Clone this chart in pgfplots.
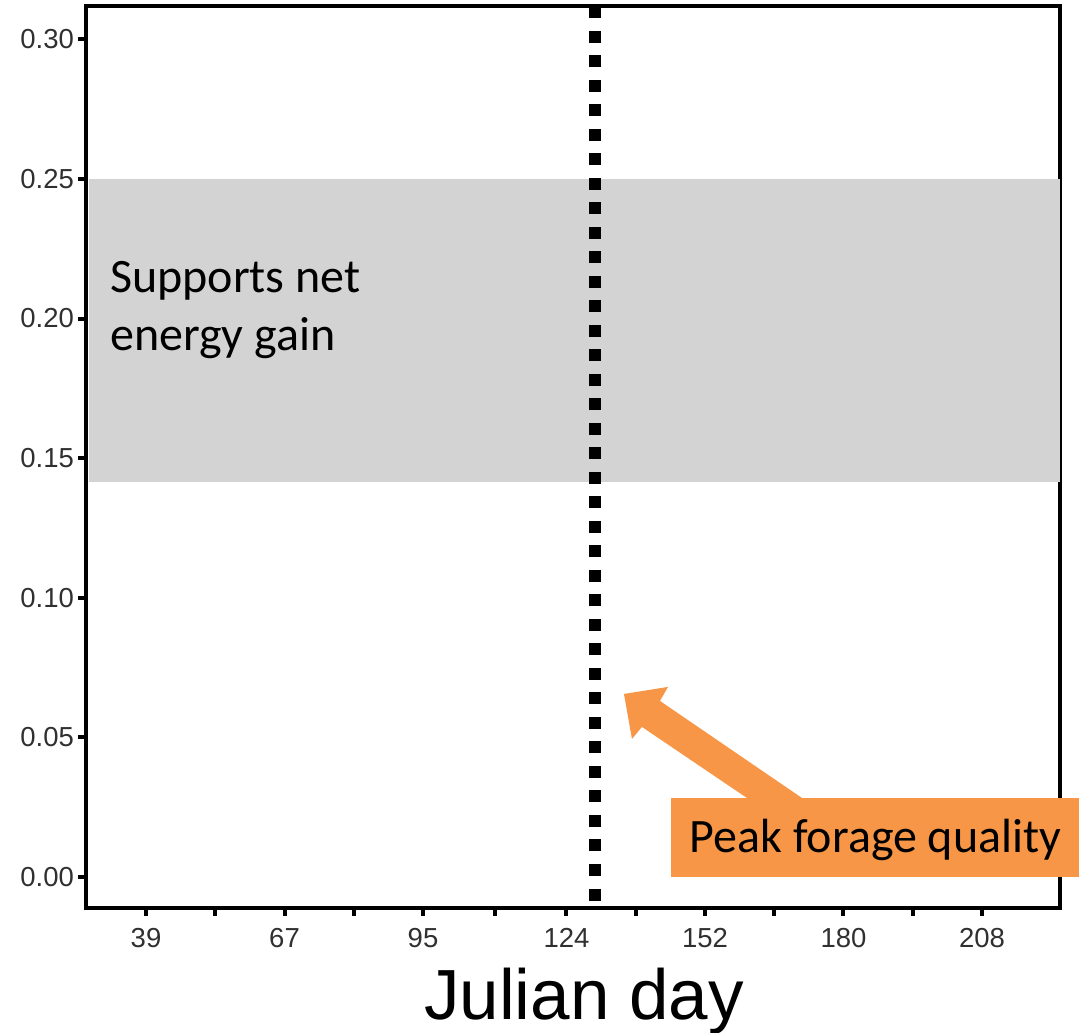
\documentclass[border=0pt]{standalone}
\usepackage{pgfplots}
\pgfplotsset{compat=1.18}
\usepackage{fontspec}
\setmainfont{Liberation Sans}
\newfontfamily\calibri{Carlito}
\definecolor{bandgray}{HTML}{D3D3D3}
\definecolor{orangebox}{HTML}{F79646}
\definecolor{ticklab}{HTML}{303030}
\begin{document}
\begin{tikzpicture}
\path[use as bounding box] (-86.5pt,-125pt) rectangle (992.5pt,908pt);
\begin{axis}[
  scale only axis, width=973pt, height=901.5pt,
  xmin=26.97, xmax=223.67, ymin=-0.01122, ymax=0.3118,
  axis line style={line width=4pt, black},
  tick align=outside, major tick length=8pt, minor tick length=8pt,
  tick style={line width=4pt, black},
  xtick pos=left, ytick pos=left,
  xtick={39,67,95,124,152,180,208},
  minor xtick={53,81,109.5,138,166,194},
  ytick={0,0.05,0.10,0.15,0.20,0.25,0.30},
  yticklabels={0.00,0.05,0.10,0.15,0.20,0.25,0.30},
  ticklabel style={font=\fontsize{27.5}{32}\selectfont, text=ticklab},
  xticklabel style={yshift=-9pt},
  yticklabel style={xshift=-1pt},
  /pgf/number format/assume math mode=true,
  xlabel={Julian day},
  xlabel style={at={(axis description cs:0.5113,-0.1242)}, anchor=base, font=\fontsize{71}{80}\selectfont},
  clip=false,
]
% band supporting net energy gain
\addplot[fill=bandgray, draw=none] coordinates {(27.4,0.1415) (223.67,0.1415) (223.67,0.2501) (27.4,0.2501)} -- cycle;
% peak forage quality line
\addplot[black, line width=12pt, dash pattern=on 12pt off 12.5pt] coordinates {(129.7,0.3118) (129.7,-0.01122)};
% arrow
\addplot[fill=orangebox, draw=none] coordinates {(135.62,0.06548) (144.52,0.06799) (142.90,0.06297) (181.07,0.01674) (170.05,0.01674) (139.26,0.05366) (137.24,0.04935)} -- cycle;
% box
\addplot[fill=orangebox, draw=none] coordinates {(145.1,0.0) (227.6,0.0) (227.6,0.0282) (145.1,0.0282)} -- cycle;
\node[anchor=base west, inner sep=0pt, font=\calibri\fontsize{48}{57}\selectfont] at (axis cs:148.9,0.00851) {Peak forage quality};
\node[anchor=base west, inner sep=0pt, font=\calibri\fontsize{48}{57}\selectfont] at (axis cs:31.72,0.2092) {Supports net};
\node[anchor=base west, inner sep=0pt, font=\calibri\fontsize{48}{57}\selectfont] at (axis cs:31.72,0.1884) {energy gain};
\end{axis}
\end{tikzpicture}
\end{document}
